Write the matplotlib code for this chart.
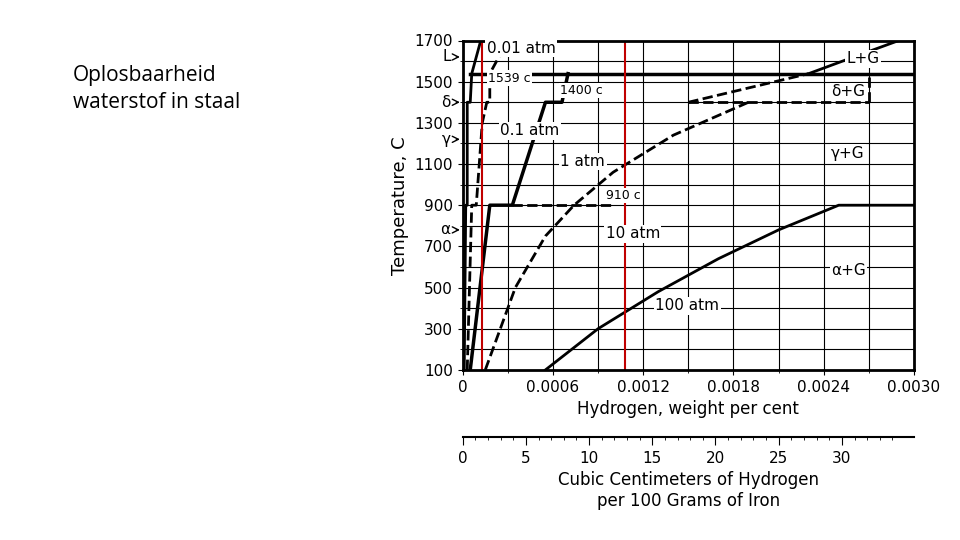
import matplotlib.pyplot as plt

# hydrogen wt% vs temperature (C)
atm001_x = [0.00001, 0.00002, 0.00003, 0.00003, 0.00005, 0.00006, 0.00006, 0.00012]
atm001_y = [100, 900, 900, 1400, 1400, 1539, 1539, 1700]
atm01_x = [0.00003, 0.00006, 0.00009, 0.00013, 0.00016, 0.00018, 0.00018, 0.00030]
atm01_y = [100, 900, 900, 1300, 1400, 1400, 1539, 1700]
atm1_x = [0.00005, 0.00018, 0.00033, 0.00055, 0.00066, 0.00070, 0.00070]
atm1_y = [100, 900, 900, 1400, 1400, 1539, 1539]
atm10_x = [0.00015, 0.00035, 0.00055, 0.00074, 0.0010, 0.0014, 0.0019]
atm10_y = [100, 500, 750, 900, 1060, 1240, 1400]
atm100_x = [0.00055, 0.0009, 0.0013, 0.0017, 0.0021, 0.0025, 0.0030]
atm100_y = [100, 300, 480, 640, 780, 900, 900]
lg_x = [0.0023, 0.0026, 0.0029]
lg_y = [1539, 1620, 1700]
red_x = [0.000125, 0.00108]
cc_ticks = [0, 5, 10, 15, 20, 25, 30]
cc_per_wt = 11900

fig = plt.figure(figsize=(9.6, 5.4), dpi=100)
fig.text(0.076, 0.88, "Oplosbaarheid\nwaterstof in staal", fontsize=15, va="top",
         family="Open Sans", linespacing=1.4)

ax = fig.add_axes([0.482, 0.315, 0.47, 0.61])
ax.set_xlim(0, 0.0030)
ax.set_ylim(100, 1700)
ax.set_xticks([0, 0.0006, 0.0012, 0.0018, 0.0024, 0.0030])
ax.set_xticklabels(["0", "0.0006", "0.0012", "0.0018", "0.0024", "0.0030"])
ax.set_xticks([i * 0.0003 for i in range(11)], minor=True)
ax.set_yticks(range(100, 1701, 200))
ax.set_yticks(range(100, 1701, 100), minor=True)
ax.grid(True, which="both", color="black", lw=0.8)
for s in ax.spines.values():
    s.set_linewidth(2)
ax.tick_params(labelsize=11)
ax.set_xlabel("Hydrogen, weight per cent", fontsize=12)
ax.set_ylabel("Temperature, C", fontsize=13)

ax.plot(atm001_x, atm001_y, "k-", lw=2)
ax.plot(atm01_x, atm01_y, "k--", lw=2)
ax.plot(atm1_x, atm1_y, "k-", lw=2.5)
ax.plot(atm10_x, atm10_y, "k--", lw=2)
ax.plot(atm100_x, atm100_y, "k-", lw=2)
ax.plot(lg_x, lg_y, "k-", lw=2)
ax.plot([0.00005, 0.0030], [1539, 1539], "k-", lw=2.5)
ax.plot([0.0015, 0.0027], [1400, 1400], "k--", lw=2)
ax.plot([0.0015, 0.0023], [1400, 1539], "k--", lw=2)
ax.plot([0.0027, 0.0027], [1400, 1539], "k--", lw=2)
ax.plot([0.00033, 0.0010], [900, 900], "k--", lw=2)
for x in red_x:
    ax.axvline(x, color="#c00000", lw=1.5)

lab = dict(fontsize=11, bbox=dict(fc="white", ec="none", pad=1))
ax.text(0.00016, 1640, "0.01 atm", **lab)
ax.text(0.00017, 1500, "1539 c", fontsize=9, **{k: v for k, v in lab.items() if k != "fontsize"})
ax.text(0.00065, 1440, "1400 c", fontsize=9, **{k: v for k, v in lab.items() if k != "fontsize"})
ax.text(0.00025, 1240, "0.1 atm", **lab)
ax.text(0.00065, 1090, "1 atm", **lab)
ax.text(0.00095, 930, "910 c", fontsize=9, **{k: v for k, v in lab.items() if k != "fontsize"})
ax.text(0.00095, 740, "10 atm", **lab)
ax.text(0.00128, 390, "100 atm", **lab)
ax.text(0.00255, 1590, "L+G", **lab)
ax.text(0.00245, 1430, "δ+G", **lab)
ax.text(0.00245, 1130, "γ+G", **lab)
ax.text(0.00245, 560, "α+G", **lab)
for y, t in [(1620, "L"), (1400, "δ"), (1220, "γ"), (780, "α")]:
    ax.annotate(t, xy=(0, y), xytext=(-0.00008, y), fontsize=11, ha="right",
                va="center", annotation_clip=False,
                arrowprops=dict(arrowstyle="->", lw=1))

ax2 = fig.add_axes([0.482, 0.19, 0.47, 0.001])
ax2.set_xlim(0, 0.0030 * cc_per_wt)
ax2.set_xticks(cc_ticks)
ax2.set_xticks(range(0, 35), minor=True)
ax2.set_yticks([])
for k in ["top", "left", "right"]:
    ax2.spines[k].set_visible(False)
ax2.spines["bottom"].set_linewidth(1.5)
ax2.tick_params(labelsize=11, length=6, which="major")
ax2.set_xlabel("Cubic Centimeters of Hydrogen\nper 100 Grams of Iron", fontsize=12)

fig.savefig("out.png")
